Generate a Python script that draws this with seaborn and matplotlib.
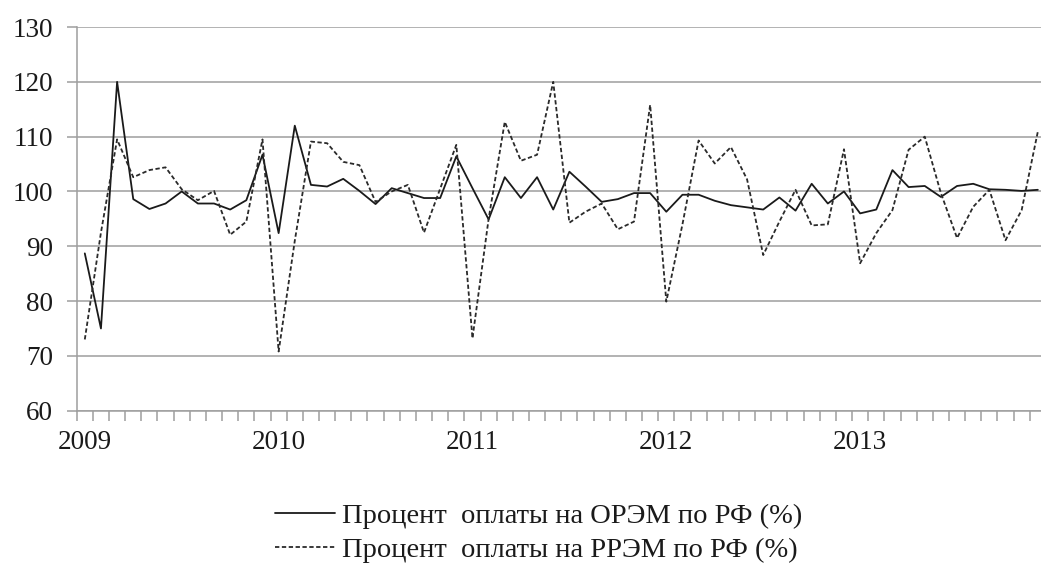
import matplotlib
matplotlib.use("Agg")
import matplotlib.pyplot as plt
import seaborn as sns
import numpy as np
import pandas as pd
from matplotlib.ticker import FixedLocator

years = ["2009", "2010", "2011", "2012", "2013"]
months_per_year = 12

orem = [88.7, 75.0, 120.0, 98.6, 96.8, 97.8, 100.0, 97.8, 97.8, 96.7, 98.4, 106.7,
        92.4, 112.0, 101.2, 100.9, 102.3, 100.1, 97.7, 100.6, 99.7, 98.8, 98.8, 106.4,
        100.6, 94.9, 102.6, 98.8, 102.6, 96.7, 103.6, 100.9, 98.1, 98.6, 99.7, 99.7,
        96.3, 99.4, 99.4, 98.3, 97.5, 97.1, 96.7, 98.9, 96.5, 101.4, 97.8, 100.0,
        96.0, 96.7, 103.9, 100.8, 101.0, 99.0, 101.0, 101.4, 100.4, 100.3, 100.1, 100.3]

rrem = [73.0, 92.5, 109.5, 102.6, 103.9, 104.4, 100.4, 98.4, 100.1, 92.1, 94.5, 109.5,
        70.8, 91.0, 109.1, 108.8, 105.4, 104.8, 98.1, 100.0, 101.2, 92.5, 100.5, 108.5,
        73.2, 95.0, 112.7, 105.6, 106.7, 120.0, 94.3, 96.3, 97.8, 93.1, 94.5, 115.8,
        79.9, 94.0, 109.3, 105.1, 108.1, 102.2, 88.4, 94.5, 100.3, 93.8, 94.0, 107.7,
        86.9, 92.4, 96.6, 107.6, 110.0, 99.7, 91.5, 97.2, 100.3, 91.1, 96.6, 110.9]

label_orem = "Процент  оплаты на ОРЭМ по РФ (%)"
label_rrem = "Процент  оплаты на РРЭМ по РФ (%)"

sns.set_style("white")
plt.rcParams['font.family'] = ['Liberation Serif', 'DejaVu Serif']

fig = plt.figure(figsize=(10.41, 5.64), dpi=100)
ax = fig.add_axes([0.0737, 0.2718, 0.9310, 0.6803])

n = len(orem)
df = pd.DataFrame({"idx": np.arange(n), "orem": orem, "rrem": rrem})

sns.lineplot(data=df, x="idx", y="orem", ax=ax, color="#1a1a1a", lw=1.3,
             label=label_orem)
sns.lineplot(data=df, x="idx", y="rrem", ax=ax, color="#2a2a2a", lw=1.3,
             label=label_rrem)
ax.lines[1].set_dashes((2.4, 1.4))

ax.set_xlim(-0.5, n - 0.5)
ax.set_ylim(60, 130)
ax.set_yticks(np.arange(60, 131, 10))
ax.yaxis.grid(True, color="#9e9e9e", lw=1.1)
ax.xaxis.grid(False)
ax.set_axisbelow(True)

major_pos = [i * months_per_year for i in range(len(years))]
ax.set_xticks(major_pos)
ax.set_xticklabels(years)
ax.xaxis.set_minor_locator(FixedLocator(np.arange(-0.5, n + 0.5, 1.0)))
ax.tick_params(axis="x", which="major", length=0, pad=14, labelsize=19.5, colors="#1a1a1a")
ax.tick_params(axis="x", which="minor", length=7, width=1.1, color="#9e9e9e", direction="out", bottom=True)
ax.tick_params(axis="y", length=7, width=1.1, color="#9e9e9e", direction="out", left=True,
               pad=10, labelsize=19.5, labelcolor="#1a1a1a")

ax.set_xlabel("")
ax.set_ylabel("")
for s in ["top", "right"]:
    ax.spines[s].set_visible(False)
for s in ["left", "bottom"]:
    ax.spines[s].set_color("#9e9e9e")
    ax.spines[s].set_linewidth(1.1)

leg = ax.legend(loc="center", bbox_to_anchor=(539 / 1041, 1 - 533 / 564),
                bbox_transform=fig.transFigure, frameon=False, fontsize=20.5,
                handlelength=2.1, handletextpad=0.25, labelspacing=0.3, ncol=1)
for t in leg.get_texts():
    t.set_color("#1a1a1a")

fig.savefig("out.png", dpi=100)
